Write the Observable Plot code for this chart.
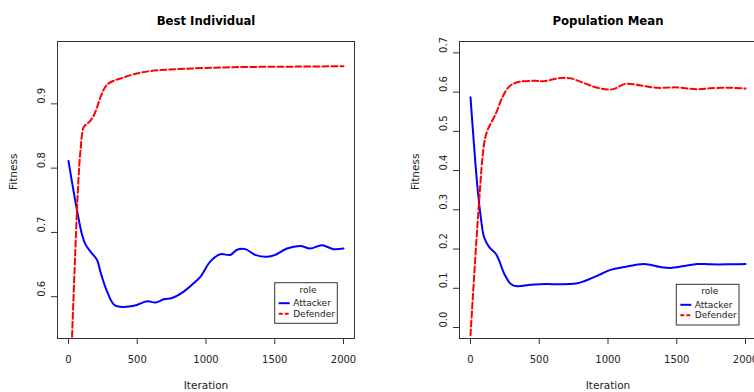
<!DOCTYPE html>
<html>
<head>
<meta charset="utf-8">
<script src="https://cdn.jsdelivr.net/npm/d3@7"></script>
<script src="https://cdn.jsdelivr.net/npm/@observablehq/plot@0.6"></script>
<style>
  html, body { margin: 0; padding: 0; background: #fff; }
  #wrap { position: relative; width: 754px; height: 392px; overflow: hidden; background: #fff; }
  #wrap svg { position: absolute; top: 0; }
</style>
</head>
<body>
<div id="wrap"></div>
<script>
// ---- data ----
const roles = ["Attacker", "Defender"];
const xTicks = [0, 500, 1000, 1500, 2000];
const bestYTicks = [0.6, 0.7, 0.8, 0.9];
const meanYTicks = [0.0, 0.1, 0.2, 0.3, 0.4, 0.5, 0.6, 0.7];

const bestAttIter = [0, 63, 99, 124, 160, 208, 232, 281, 341, 475, 572, 632, 693, 753, 838, 910, 959, 1032, 1104, 1177, 1226, 1286, 1358, 1443, 1504, 1589, 1685, 1758, 1843, 1927, 2000];
const bestAttVal  = [0.811, 0.733, 0.696, 0.681, 0.670, 0.657, 0.639, 0.608, 0.586, 0.586, 0.593, 0.591, 0.596, 0.598, 0.608, 0.621, 0.631, 0.655, 0.666, 0.665, 0.673, 0.674, 0.665, 0.662, 0.665, 0.675, 0.679, 0.675, 0.680, 0.674, 0.675];

const bestDefIter = [0, 68, 87, 111, 136, 160, 184, 208, 232, 256, 281, 329, 400, 475, 596, 838, 1199, 1685, 2000];
const bestDefVal  = [0.384, 0.764, 0.827, 0.864, 0.869, 0.874, 0.882, 0.895, 0.910, 0.922, 0.930, 0.936, 0.941, 0.946, 0.951, 0.9545, 0.957, 0.958, 0.9585];

const meanAttIter = [0, 50, 75, 99, 136, 184, 208, 245, 293, 341, 438, 559, 632, 777, 826, 923, 1019, 1117, 1262, 1383, 1455, 1553, 1649, 1746, 1867, 2000];
const meanAttVal  = [0.587, 0.360, 0.281, 0.230, 0.205, 0.188, 0.171, 0.137, 0.111, 0.105, 0.109, 0.111, 0.110, 0.113, 0.118, 0.132, 0.147, 0.154, 0.162, 0.154, 0.152, 0.157, 0.162, 0.161, 0.161, 0.162];

const meanDefIter = [0, 63, 99, 123, 184, 232, 281, 341, 462, 535, 656, 729, 826, 923, 1032, 1128, 1237, 1359, 1504, 1649, 1746, 1891, 2000];
const meanDefVal  = [-0.020, 0.324, 0.468, 0.502, 0.545, 0.587, 0.614, 0.625, 0.629, 0.628, 0.636, 0.635, 0.623, 0.611, 0.607, 0.621, 0.617, 0.611, 0.612, 0.607, 0.610, 0.611, 0.609];

// ---- helpers ----
const rows = (iters, vals, role) => iters.map((it, i) => ({iteration: it, fitness: vals[i], role}));
const fmt = d3.format(".1f");
const FONT = "DejaVu Sans";
const DASH = "6,3";

function panel(o) {
  const att = rows(o.attIter, o.attVal, roles[0]);
  const def = rows(o.defIter, o.defVal, roles[1]);
  const svg = Plot.plot({
    width: o.width, height: 392,
    marginLeft: o.ml, marginRight: o.mr, marginTop: 41, marginBottom: 54,
    style: {fontFamily: FONT, fontSize: "10px", color: "#333", background: "transparent", overflow: "visible"},
    x: {domain: [-80, 2080]},
    y: {domain: o.yDomain},
    marks: [
      Plot.line(att, {x: "iteration", y: "fitness", stroke: "#0000ff", strokeWidth: 2, curve: "catmull-rom", clip: true}),
      Plot.line(def, {x: "iteration", y: "fitness", stroke: "#ff0000", strokeWidth: 2, strokeDasharray: DASH, curve: "catmull-rom", clip: true}),
      Plot.frame({stroke: "#333", strokeWidth: 1}),
      Plot.axisX({ticks: xTicks, tickSize: 6, tickPadding: 11, tickFormat: d => String(d), label: null, fill: "#222"}),
      Plot.axisY({ticks: o.yTicks, tickSize: 6, tickFormat: () => "", label: null}),
      Plot.text(o.yTicks, {y: d => d, text: d => fmt(d), frameAnchor: "left", dx: -16, rotate: -90, fill: "#222", fontSize: 10}),
      Plot.text(["Iteration"], {text: d => d, frameAnchor: "bottom", dy: 50, fill: "#222", fontSize: 10.5}),
      Plot.text(["Fitness"], {text: d => d, frameAnchor: "left", dx: -43.5, rotate: -90, fill: "#222", fontSize: 10.5}),
      Plot.text([o.title], {text: d => d, frameAnchor: "top", dy: -26, fontWeight: "bold", fontSize: 13, fontFamily: "DejaVu Sans Condensed", fill: "#000"})
    ]
  });
  // legend (R-style box)
  const g = d3.select(svg).append("g").attr("font-family", FONT).attr("font-size", 9).attr("fill", "#222");
  const L = o.lx, T = o.ly, W = o.lw, H = o.lh;
  g.append("rect").attr("x", L).attr("y", T).attr("width", W).attr("height", H)
    .attr("fill", "#fff").attr("stroke", "#333").attr("stroke-width", 1);
  g.append("text").attr("x", L + W / 2 + 2).attr("y", T + 6.8).attr("dy", "0.35em").attr("text-anchor", "middle").text("role");
  const items = [{name: roles[0], color: "#0000ff", dash: null}, {name: roles[1], color: "#ff0000", dash: "4,2"}];
  items.forEach((it, i) => {
    const y = T + 20.5 + i * 10.5;
    g.append("line").attr("x1", L + 4).attr("x2", L + 15).attr("y1", y).attr("y2", y)
      .attr("stroke", it.color).attr("stroke-width", 2).attr("stroke-dasharray", it.dash);
    g.append("text").attr("x", L + 18.5).attr("y", y).attr("dy", "0.35em").attr("text-anchor", "start").text(it.name);
  });
  svg.style.left = o.left + "px";
  return svg;
}

const wrap = document.getElementById("wrap");
wrap.appendChild(panel({
  title: "Best Individual", width: 377, ml: 57, mr: 23, left: 0,
  yDomain: [0.535, 0.997], yTicks: bestYTicks,
  attIter: bestAttIter, attVal: bestAttVal, defIter: bestDefIter, defVal: bestDefVal,
  lx: 274.7, ly: 282.7, lw: 62.6, lh: 40.6
}));
wrap.appendChild(panel({
  title: "Population Mean", width: 400, ml: 82, mr: 21, left: 377,
  yDomain: [-0.028, 0.729], yTicks: meanYTicks,
  attIter: meanAttIter, attVal: meanAttVal, defIter: meanDefIter, defVal: meanDefVal,
  lx: 299.3, ly: 284.3, lw: 62.7, lh: 40.7
}));
</script>
</body>
</html>
